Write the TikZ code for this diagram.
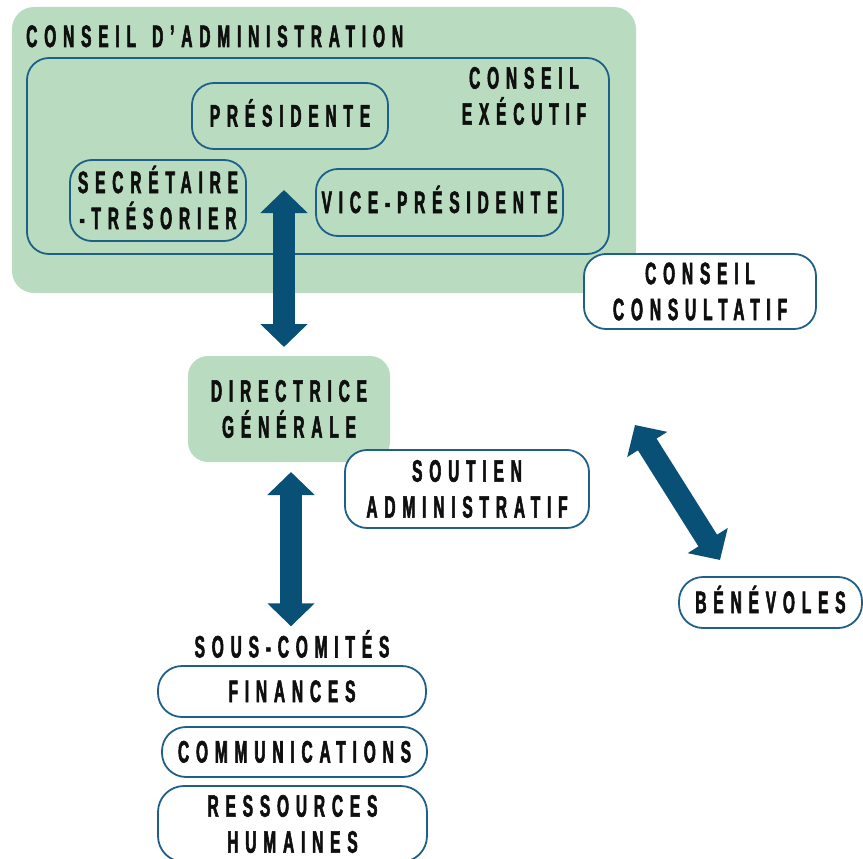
\documentclass[tikz,border=0pt]{standalone}
\usepackage{fontspec}
\newfontfamily\lab{Liberation Sans Bold}[FakeStretch=0.5,LetterSpace=22,FakeBold=1.8]
\usetikzlibrary{arrows.meta}
\definecolor{mint}{RGB}{185,220,192}
\definecolor{navy}{RGB}{8,80,118}
\definecolor{edge}{RGB}{30,96,136}
\definecolor{ink}{RGB}{15,15,15}
\tikzset{
  txt/.style={font=\lab\fontsize{31}{36}\selectfont, text=ink, inner sep=0pt},
  txtone/.style={txt, text height=21pt, text depth=0pt},
  txttwo/.style={txt, align=center},
  outl/.style={draw=edge, line width=1.8pt, rounded corners=22pt},
  wbox/.style={outl, fill=white},
  bigarrow/.style={draw=navy, line width=22pt,
    {Triangle[length=23pt,width=46pt]}-{Triangle[length=23pt,width=46pt]}},
}
\begin{document}
\begin{tikzpicture}[x=1pt,y=-1pt]
\useasboundingbox (0,0) rectangle (863,859);
% conseil d'administration
\node[fill=mint, rounded corners=22pt, minimum width=624pt, minimum height=286pt, inner sep=0pt] (ca) at (324,150) {};
\node[txt, anchor=base west] (calbl) at (26,47) {CONSEIL\hspace{5pt} D’ADMINISTRATION};
% conseil exécutif
\node[outl, minimum width=582pt, minimum height=196pt, inner sep=0pt] (ce) at (318,156) {};
\node[txttwo] (celbl) at (524,96) {CONSEIL\\EXÉCUTIF};
\node[outl, txtone, minimum width=196pt, minimum height=66pt] (pres) at (290,116) {PRÉSIDENTE};
\node[outl, minimum width=176pt, minimum height=81pt] (sec) at (158,200.5) {};
\node[txttwo] (seclbl) at (158,197.5) {SECRÉTAIRE\\-TRÉSORIER};
\node[outl, txtone, minimum width=247pt, minimum height=67pt] (vp) at (439.5,202.5) {VICE-PRÉSIDENTE};
% conseil consultatif
\node[wbox, txttwo, minimum width=232pt, minimum height=75pt] (cc) at (700,291.5) {CONSEIL\\CONSULTATIF};
% directrice générale
\node[fill=mint, rounded corners=20pt, txttwo, minimum width=202pt, minimum height=106pt] (dg) at (289,409) {DIRECTRICE\\GÉNÉRALE};
\node[wbox, txttwo, minimum width=244pt, minimum height=78pt] (sa) at (467,489) {SOUTIEN\\ADMINISTRATIF};
% bénévoles
\node[wbox, txtone, minimum width=183pt, minimum height=51pt, rounded corners=24pt] (ben) at (770.5,602.5) {BÉNÉVOLES};
% sous-comités
\node[txtone] (sc) at (292,647) {SOUS-COMITÉS};
\node[wbox, txtone, minimum width=268pt, minimum height=51pt, rounded corners=24pt] (fin) at (292,691.5) {FINANCES};
\node[wbox, txtone, minimum width=265pt, minimum height=50pt, rounded corners=24pt] (com) at (294.5,752) {COMMUNICATIONS};
\node[wbox, txttwo, minimum width=269pt, minimum height=76pt, rounded corners=26pt] (rh) at (292.5,824) {RESSOURCES\\HUMAINES};
% arrows
\coordinate (a1top) at (284,190);
\coordinate (a1bot) at (284,347);
\draw[bigarrow] (a1top) -- (a1bot);
\coordinate (a2top) at (291,472);
\draw[bigarrow] (a2top) -- ([yshift=10pt]a2top |- sc.north);
\coordinate (d1) at (635,425);
\coordinate (d2) at (720,560);
\draw[bigarrow] (d1) -- (d2);
\end{tikzpicture}
\end{document}
